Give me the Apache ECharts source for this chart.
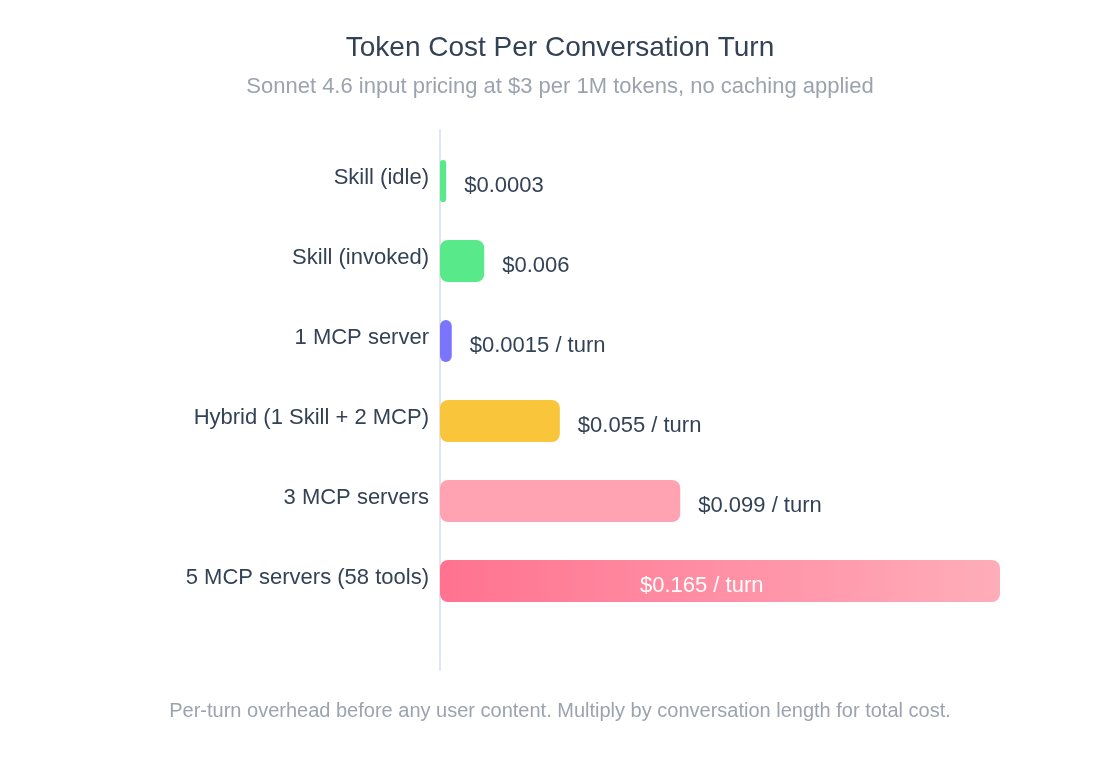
<!DOCTYPE html>
<html>
<head>
<meta charset="utf-8">
<title>Token Cost Per Conversation Turn</title>
<script src="https://cdn.jsdelivr.net/npm/echarts@6/dist/echarts.min.js"></script>
<style>
  html, body { margin: 0; padding: 0; background: #ffffff; }
  #chart { width: 1120px; height: 760px; }
</style>
</head>
<body>
<div id="chart"></div>
<script>
// categories, top to bottom
const categories = [
  'Skill (idle)',
  'Skill (invoked)',
  '1 MCP server',
  'Hybrid (1 Skill + 2 MCP)',
  '3 MCP servers',
  '5 MCP servers (58 tools)'
]

// bar length, % of the longest bar
const barLength = [1.1, 7.9, 2.1, 21.4, 42.9, 100]

// cost labels printed next to the bars
const costLabels = [
  '$0.0003',
  '$0.006',
  '$0.0015 / turn',
  '$0.055 / turn',
  '$0.099 / turn',
  '$0.165 / turn'
]

const barColors = ['#57e98a', '#57e98a', '#7b75fd', '#f9c63b', '#ffa3b3', null]

const titleText = 'Token Cost Per Conversation Turn'
const subtitleText = 'Sonnet 4.6 input pricing at $3 per 1M tokens, no caching applied'
const footerText = 'Per-turn overhead before any user content. Multiply by conversation length for total cost.'

const FONT = "'Liberation Sans', Arial, Helvetica, sans-serif"
const textColor = '#344256'
const mutedColor = '#9ca3af'

const chart = echarts.init(document.getElementById('chart'))

const lastIdx = barLength.length - 1

const option = {
  backgroundColor: '#ffffff',
  textStyle: { fontFamily: FONT },
  title: [
    {
      text: titleText,
      left: 'center',
      top: 29,
      textStyle: { fontSize: 28, fontWeight: 'normal', color: textColor, fontFamily: FONT }
    },
    {
      text: subtitleText,
      left: 'center',
      top: 71,
      textStyle: { fontSize: 22, fontWeight: 'normal', color: mutedColor, fontFamily: FONT }
    },
    {
      text: footerText,
      left: 'center',
      top: 696,
      textStyle: { fontSize: 20, fontWeight: 'normal', color: mutedColor, fontFamily: FONT }
    }
  ],
  grid: [
    // bars
    { left: 440, width: 560, top: 141, height: 480 },
    // only carries the tall divider line
    { left: 440, width: 560, top: 130, height: 540 }
  ],
  xAxis: [
    { type: 'value', gridIndex: 0, min: 0, max: 100, show: false },
    { type: 'value', gridIndex: 1, min: 0, max: 1, show: false }
  ],
  yAxis: [
    {
      type: 'category',
      gridIndex: 0,
      data: categories,
      inverse: true,
      axisLine: { show: false },
      axisTick: { show: false },
      splitLine: { show: false },
      axisLabel: {
        margin: 11,
        formatter: v => '{c|' + v + '}',
        rich: {
          c: {
            color: textColor,
            fontSize: 22,
            fontFamily: FONT,
            padding: [0, 0, 6, 0]
          }
        }
      }
    },
    {
      type: 'value',
      gridIndex: 1,
      min: 0,
      max: 1,
      axisLine: { show: true, lineStyle: { color: '#e0e5eb', width: 2 } },
      axisTick: { show: false },
      axisLabel: { show: false },
      splitLine: { show: false }
    }
  ],
  series: [
    {
      type: 'bar',
      xAxisIndex: 0,
      yAxisIndex: 0,
      barWidth: 42,
      data: barLength.map((v, i) => {
        const item = {
          value: v,
          itemStyle: {
            borderRadius: 8,
            color: barColors[i] || new echarts.graphic.LinearGradient(0, 0, 1, 0, [
              { offset: 0, color: '#ff7290' },
              { offset: 1, color: '#ffadb9' }
            ])
          },
          label: {
            show: true,
            position: 'right',
            distance: 18,
            offset: [0, 5],
            color: textColor,
            fontSize: 22,
            fontFamily: FONT,
            formatter: () => costLabels[i]
          }
        }
        if (i === lastIdx) {
          item.label = {
            show: true,
            position: ['35.7%', '50%'],
            align: 'left',
            verticalAlign: 'middle',
            offset: [0, 5],
            color: '#ffffff',
            fontSize: 22,
            fontFamily: FONT,
            formatter: () => costLabels[i]
          }
        }
        return item
      })
    }
  ]
}

chart.setOption(option)
</script>
</body>
</html>
